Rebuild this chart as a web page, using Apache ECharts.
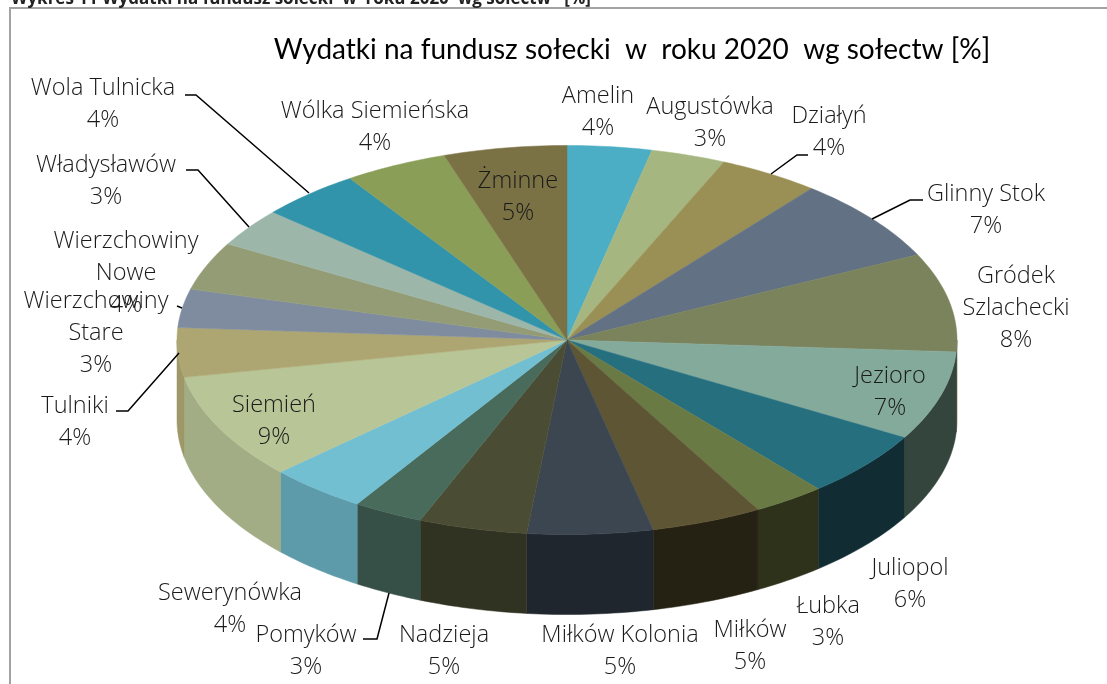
<!DOCTYPE html>
<html lang="pl">
<head>
<meta charset="utf-8">
<style>html,body{margin:0;padding:0;background:#fff}#c{width:1107px;height:684px}</style>
<script src="https://cdn.jsdelivr.net/npm/echarts@6/dist/echarts.min.js"></script>
</head>
<body>
<div id="c"></div>
<script>
// Data, clockwise from the top of the pie
const categories = ['Amelin','Augustówka','Działyń','Glinny Stok','Gródek Szlachecki','Jezioro','Juliopol','Łubka','Miłków','Miłków Kolonia','Nadzieja','Pomyków','Sewerynówka','Siemień','Tulniki','Wierzchowiny Stare','Wierzchowiny Nowe','Władysławów','Wola Tulnicka','Wólka Siemieńska','Żminne'];
const shares = [3.5,3.1,4.2,7.0,8.2,7.4,5.5,3.0,4.6,5.2,4.5,2.9,4.1,8.8,4.1,3.2,4.0,3.2,4.2,4.3,5.1];
const percentLabels = [4,3,4,7,8,7,6,3,5,5,5,3,4,9,4,3,4,3,4,4,5];

// Styles
const topColors = ['#4BAEC5','#A6B681','#9A9055','#637184','#7A835B','#84AA9C','#266F7F','#6A7A44','#5E5534','#3C4650','#4A4D33','#496B5C','#72BFD2','#B8C596','#ADA672','#7F8CA0','#949C75','#9DB6AA','#3294AA','#8A9E58','#7A7144'];
const sideColors = ['#2F7C90','#6F7C52','#675F37','#3F4A58','#4E5639','#34453E','#122C33','#2E321B','#262213','#20262E','#313322','#375047','#5E9BAA','#A2AD85','#9E9768','#566375','#646B4D','#6C8379','#1F6474','#5C6C38','#50492B'];
const TITLE = 'Wydatki na fundusz sołecki  w  roku 2020  wg sołectw [%]';
const CAPTION = 'Wykres 11 Wydatki na fundusz sołecki  w  roku 2020  wg sołectw   [%]';
const TITLE_FONT = 'Lato, "Open Sans", sans-serif';
const LABEL_FONT = '"Open Sans", Lato, sans-serif';

// Layout of the pie (pixel size of one axis unit gives the ellipse)
const PIE = {left: 177, width: 780, top: 145.5, unitY: 194.5, depth: 80};

// Label placement: centre x, y of the first line (pixel layout, not data)
const labelLayout = [[598,96],[710,107],[829,116],[986,194],[1016,276],[890,376],[910,568],[828,606],[750,630],[620,635],[444,635],[306,635],[230,593],[274,405],[75,406],[96,301],[126,241],[106,165],[103,88],[375,111],[518,181]];
const labelText = i => {
  const wrap = {'Gródek Szlachecki':['Gródek','Szlachecki'],'Wierzchowiny Stare':['Wierzchowiny','Stare'],'Wierzchowiny Nowe':['Wierzchowiny','Nowe']};
  return (wrap[categories[i]] || [categories[i]]).concat(percentLabels[i] + '%');
};
const leaders = [
  [[185,95],[196,95],[309,193]],
  [[186,170],[198,170],[249,227]],
  [[808,155],[797,155],[771,174]],
  [[923,200],[910,200],[872,219]],
  [[116,411],[128,411],[179,353]],
  [[363,639],[377,639],[389,593]],
  [[177,306],[182,308]]
];

const total = shares.reduce((a,b)=>a+b,0);
let acc = 0;
const sliceData = shares.map((v,i)=>{ const s = acc; acc += v; return [i, s/total*360, acc/total*360]; });

const rad = d => d*Math.PI/180;
const onRim = t => [Math.sin(rad(t)), Math.cos(rad(t))];

function arcPoints(a, b, api, dy){
  const pts = [], n = Math.max(2, Math.ceil((b-a)));
  for(let k=0;k<=n;k++){
    const p = api.coord(onRim(a+(b-a)*k/n));
    pts.push([p[0], p[1]+(dy||0)]);
  }
  return pts;
}

function renderSide(params, api){
  const i = api.value(0), a = Math.max(api.value(1),90), b = Math.min(api.value(2),270);
  if(a>=b) return {type:'group',children:[]};
  const upper = arcPoints(a,b,api,0), lower = arcPoints(a,b,api,PIE.depth).reverse();
  const c = sideColors[i];
  return {type:'polygon', shape:{points:upper.concat(lower)},
    style:{fill:c, stroke:c, lineWidth:0.5}};
}
function renderTop(params, api){
  const i = api.value(0), a = api.value(1), b = api.value(2);
  const c = api.coord([0,0]);
  const c0 = topColors[i];
  return {type:'polygon', shape:{points:[c].concat(arcPoints(a,b,api,0))},
    style:{fill:c0, stroke:c0, lineWidth:0.5}};
}
function renderLabel(params, api){
  const i = api.value(0), pos = labelLayout[i];
  return {type:'group', children: labelText(i).map((t,k)=>({
    type:'text', x:pos[0], y:pos[1]+k*32.2,
    style:{text:t, font:'300 23.5px '+LABEL_FONT, fill:'#1a1a1a', align:'center', verticalAlign:'middle'}
  }))};
}

const chart = echarts.init(document.getElementById('c'), null, {renderer:'canvas'});
chart.setOption({
  animation:false,
  backgroundColor:'#fff',
  grid:{left:PIE.left, width:PIE.width, top:PIE.top, height:PIE.unitY*2.5, containLabel:false},
  xAxis:{type:'value', min:-1, max:1, show:false},
  yAxis:{type:'value', min:-1.5, max:1, show:false},
  graphic:[
    {type:'polyline', shape:{points:[[10,684],[10,8],[1107,8]]}, style:{stroke:'#a3a3a3', lineWidth:2, fill:'none'}},
    {type:'text', x:11, y:7.5, style:{text:CAPTION, font:'bold 17px '+LABEL_FONT, fill:'#222', verticalAlign:'bottom'}},
    {type:'text', x:632, y:50, style:{text:TITLE, font:'400 28px '+TITLE_FONT, fill:'#000', align:'center', verticalAlign:'middle'}}
  ].concat(leaders.map(pts=>({type:'polyline', z:20, shape:{points:pts}, style:{stroke:'#000', lineWidth:1.5, fill:'none'}}))),
  series:[
    {type:'custom', name:'side', coordinateSystem:'cartesian2d', clip:false, z:2, silent:true, data:sliceData, renderItem:renderSide, encode:{x:1,y:1}},
    {type:'custom', name:'top', coordinateSystem:'cartesian2d', clip:false, z:3, silent:true, data:sliceData, renderItem:renderTop, encode:{x:1,y:1}},
    {type:'custom', name:'labels', coordinateSystem:'cartesian2d', clip:false, z:30, silent:true, data:sliceData, renderItem:renderLabel, encode:{x:1,y:1}}
  ]
});
</script>
</body>
</html>
